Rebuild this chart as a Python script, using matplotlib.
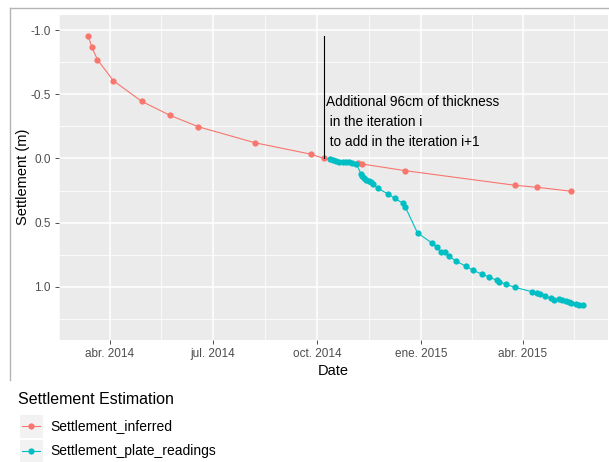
import datetime as dt
import matplotlib
matplotlib.use("Agg")
import matplotlib.pyplot as plt
import matplotlib.dates as mdates
from matplotlib.lines import Line2D
from matplotlib.patches import Rectangle

plt.rcParams['font.family'] = ['Liberation Sans', 'DejaVu Sans']

# inferred settlement (m), positive = downwards
inferred_dates = ["2014-03-13", "2014-03-16", "2014-03-21", "2014-04-04", "2014-04-29",
                  "2014-05-24", "2014-06-18", "2014-08-07", "2014-09-26", "2014-10-07",
                  "2014-11-06", "2014-11-10", "2014-12-18", "2015-03-25", "2015-04-14",
                  "2015-05-14"]
inferred_vals = [-0.955, -0.867, -0.771, -0.607, -0.446, -0.337, -0.248, -0.123, -0.033,
                 0.0, 0.037, 0.043, 0.095, 0.209, 0.225, 0.256]

# settlement plate readings (m)
plate_dates = ["2014-10-13", "2014-10-15", "2014-10-18", "2014-10-21", "2014-10-24",
               "2014-10-27", "2014-10-29", "2014-11-01", "2014-11-05", "2014-11-09",
               "2014-11-10", "2014-11-12", "2014-11-13", "2014-11-16", "2014-11-18",
               "2014-11-20", "2014-11-24", "2014-12-03", "2014-12-09", "2014-12-16",
               "2014-12-18", "2014-12-29", "2015-01-11", "2015-01-15", "2015-01-19",
               "2015-01-22", "2015-01-26", "2015-02-01", "2015-02-10", "2015-02-16",
               "2015-02-24", "2015-03-02", "2015-03-09", "2015-03-11", "2015-03-17",
               "2015-03-25", "2015-04-09", "2015-04-14", "2015-04-16", "2015-04-21",
               "2015-04-26", "2015-04-29", "2015-05-03", "2015-05-06", "2015-05-09",
               "2015-05-12", "2015-05-14", "2015-05-18", "2015-05-21", "2015-05-24"]
plate_vals = [0.005, 0.014, 0.019, 0.025, 0.027, 0.027, 0.027, 0.035, 0.043, 0.121,
              0.134, 0.152, 0.165, 0.178, 0.187, 0.203, 0.234, 0.277, 0.312, 0.349,
              0.376, 0.581, 0.661, 0.693, 0.727, 0.733, 0.764, 0.800, 0.842, 0.872,
              0.902, 0.924, 0.950, 0.961, 0.981, 1.005, 1.039, 1.053, 1.057, 1.075,
              1.092, 1.105, 1.098, 1.104, 1.109, 1.119, 1.130, 1.137, 1.140, 1.140]

tick_dates = ["2014-04-01", "2014-07-01", "2014-10-01", "2015-01-01", "2015-04-01"]
tick_labels = ["abr. 2014", "jul. 2014", "oct. 2014", "ene. 2015", "abr. 2015"]
ytick_vals = [-1.0, -0.5, 0.0, 0.5, 1.0]
ytick_labels = ["-1.0", "-0.5", "0.0", "0.5", "1.0"]

annot_date = "2014-10-07"
annot_text = "Additional 96cm of thickness\n in the iteration i\n to add in the iteration i+1"

RED = "#F8766D"
CYAN = "#00BFC4"

W, H = 609, 462


def d(s):
    return mdates.date2num(dt.datetime.strptime(s, "%Y-%m-%d"))


def fx(px):
    return px / W


def fy(py):
    return 1 - py / H


fig = plt.figure(figsize=(W / 100, H / 100), dpi=100)
ax = fig.add_axes([fx(59), fy(339.5), fx(608) - fx(59), fy(15) - fy(339.5)])
ax.set_facecolor("#EBEBEB")
for s in ax.spines.values():
    s.set_visible(False)

xi = [d(s) for s in inferred_dates]
xp = [d(s) for s in plate_dates]
ax.plot(xi, inferred_vals, color=RED, lw=0.8, marker="o", ms=4.5, mec="none", zorder=3)
ax.plot(xp, plate_vals, color=CYAN, lw=0.8, marker="o", ms=4.5, mec="none", zorder=3)

# annotation: vertical bar and note
xa = d(annot_date)
ax.plot([xa, xa], [inferred_vals[0], 0.0], color="black", lw=0.8, zorder=4)
ax.text(xa + 2, -0.285, annot_text, ha="left", va="center", fontsize=9.8,
        linespacing=1.55, color="black", zorder=5)

ax.set_xlim(d("2014-04-01") - 42.9, d("2014-04-01") + 440.4)
ax.set_ylim(1.412, -1.119)

majors = [d(s) for s in tick_dates]
ax.set_xticks(majors)
ax.set_xticklabels(tick_labels)
all_major = [d("2014-01-01")] + majors + [d("2015-07-01")]
ax.set_xticks([(a + b) / 2 for a, b in zip(all_major[:-1], all_major[1:])], minor=True)
ax.set_yticks(ytick_vals)
ax.set_yticklabels(ytick_labels)
ax.set_yticks([-0.75, -0.25, 0.25, 0.75, 1.25], minor=True)

ax.grid(which="major", color="white", lw=1.1)
ax.grid(which="minor", color="white", lw=0.55)
ax.set_axisbelow(True)
ax.tick_params(which="major", length=3, width=0.6, color="#333333",
               labelsize=8.5, labelcolor="#4D4D4D", pad=3)
ax.tick_params(which="minor", length=0)

ax.set_xlabel("Date", fontsize=10.5, labelpad=3)
ax.set_ylabel("Settlement (m)", fontsize=10.5, labelpad=0.5)

# outer frame
fig.add_artist(Line2D([fx(10), fx(609)], [fy(8), fy(8)], color="#B4B4B4", lw=1))
fig.add_artist(Line2D([fx(9.5), fx(9.5)], [fy(8), fy(380)], color="#B4B4B4", lw=1))

# legend below the plot
fig.text(fx(18), fy(399), "Settlement Estimation", fontsize=11.5, ha="left", va="center")
for i, (lab, col) in enumerate([("Settlement_inferred", RED),
                                ("Settlement_plate_readings", CYAN)]):
    yc = 426 + 25 * i
    fig.add_artist(Rectangle((fx(19), fy(yc + 12)), fx(43) - fx(19), fy(yc - 12) - fy(yc + 12),
                             facecolor="#F2F2F2", edgecolor="white", lw=0.8))
    fig.add_artist(Line2D([fx(22), fx(40)], [fy(yc), fy(yc)], color=col, lw=0.8))
    fig.add_artist(Line2D([fx(31)], [fy(yc)], color=col, marker="o", ms=4.5, mec="none"))
    fig.text(fx(50), fy(yc), lab, fontsize=10, ha="left", va="center")

fig.savefig("out.png", dpi=100)
